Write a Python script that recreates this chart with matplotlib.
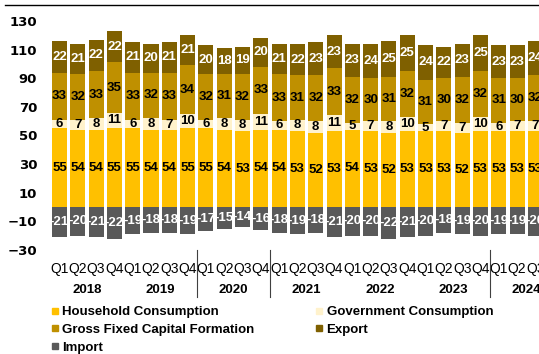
import matplotlib.pyplot as plt
from matplotlib.lines import Line2D
import numpy as np

years = ['2018', '2019', '2020', '2021', '2022', '2023', '2024']
quarters = ['Q1', 'Q2', 'Q3', 'Q4'] * 6 + ['Q1', 'Q2', 'Q3']

household = [55, 54, 54, 55, 55, 54, 54, 55, 55, 54, 53, 54, 54, 53, 52, 53,
             54, 53, 52, 53, 53, 53, 52, 53, 53, 53, 53]
government = [6, 7, 8, 11, 6, 8, 7, 10, 6, 8, 8, 11, 6, 8, 8, 11,
              5, 7, 8, 10, 5, 7, 7, 10, 6, 7, 7]
gfcf = [33, 32, 33, 35, 33, 32, 33, 34, 32, 31, 32, 33, 33, 31, 32, 33,
        32, 30, 31, 32, 31, 30, 32, 32, 31, 30, 32]
export = [22, 21, 22, 22, 21, 20, 21, 21, 20, 18, 19, 20, 21, 22, 23, 23,
          23, 24, 25, 25, 24, 22, 23, 25, 23, 23, 24]
imports = [-21, -20, -21, -22, -19, -18, -18, -19, -17, -15, -14, -16, -18, -19, -18, -21,
           -20, -20, -22, -21, -20, -18, -19, -20, -19, -19, -20]

series = [
    ('Household Consumption', household, '#FFC000', 'black'),
    ('Government Consumption', government, '#FFF2CC', 'black'),
    ('Gross Fixed Capital Formation', gfcf, '#BF9000', 'black'),
    ('Export', export, '#7F6000', 'white'),
]

plt.rcParams['font.family'] = ['Liberation Sans', 'DejaVu Sans']

fig = plt.figure(figsize=(5.39, 3.54), dpi=100)
ax = fig.add_axes([0.0934, 0.2938, 0.9066, 0.6469])

x = np.arange(len(quarters))
w = 0.82
bottom = np.zeros(len(x))
for name, vals, col, tcol in series:
    vals = np.array(vals)
    ax.bar(x, vals, w, bottom=bottom, color=col, edgecolor='none')
    for xi, b, v in zip(x, bottom, vals):
        ax.text(xi, b + v / 2, str(v), ha='center', va='center',
                fontsize=9.5, fontweight='bold', color=tcol)
    bottom = bottom + vals

imp = np.array(imports)
ax.bar(x, imp, w, color='#595959', edgecolor='none')
for xi, v in zip(x, imp):
    ax.text(xi, v / 2, str(v), ha='center', va='center',
            fontsize=9.5, fontweight='bold', color='white')

ax.set_xlim(-0.5, 26.2)
ax.set_ylim(-30, 130)
ax.set_yticks(range(-30, 131, 20))
for lab in ax.get_yticklabels():
    lab.set_fontfamily('DejaVu Sans')
    lab.set_fontweight('bold')
    lab.set_fontsize(9.5)
ax.set_xticks(x, quarters, fontsize=10)
ax.tick_params(length=0)
ax.tick_params(axis='y', pad=9.5)
ax.tick_params(axis='x', pad=9)
for s in ax.spines.values():
    s.set_visible(False)

tr = ax.get_xaxis_transform()
for i, yr in enumerate(years):
    ax.text(i * 4 + 1.5, -0.175, yr, transform=tr, ha='center', va='center',
            fontsize=9.5, fontweight='bold', clip_on=False)
for bx in [7.5, 11.5, 23.5]:
    ax.plot([bx, bx], [0, -0.205], transform=tr, color='#404040', lw=0.8, clip_on=False)

# line at top
fig.add_artist(Line2D([0.01, 1], [1 - 5 / 354, 1 - 5 / 354], color='black', lw=1))

def handle(c):
    return Line2D([], [], marker='s', markersize=4, linestyle='none', color=c)

leg_kw = dict(loc='upper left', frameon=False, prop={'weight': 'bold', 'size': 9.5},
              handlelength=0.5, handletextpad=0.35, labelspacing=0.42,
              borderpad=0, borderaxespad=0)
leg1 = fig.legend([handle('#FFC000'), handle('#BF9000'), handle('#595959')],
                  ['Household Consumption', 'Gross Fixed Capital Formation', 'Import'],
                  bbox_to_anchor=(0.095, 1 - 306 / 354), **leg_kw)
leg2 = fig.legend([handle('#FFF2CC'), handle('#7F6000')],
                  ['Government Consumption', 'Export'],
                  bbox_to_anchor=(0.585, 1 - 306 / 354), **leg_kw)

fig.savefig('out.png', dpi=100)
